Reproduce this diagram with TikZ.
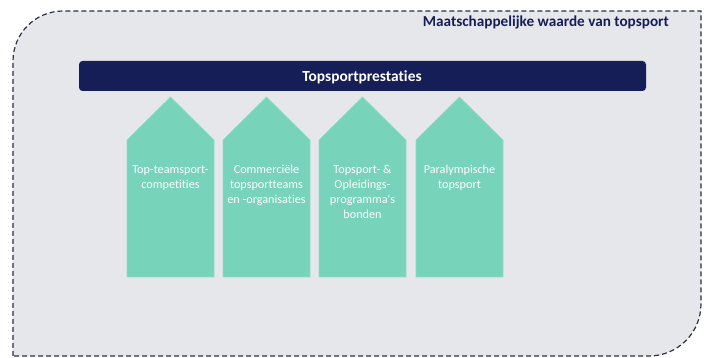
\documentclass[tikz,border=0pt]{standalone}
\usepackage{fontspec}
\setmainfont{Carlito}[Ligatures={NoCommon}]
\definecolor{bgfill}{RGB}{230,231,235}
\definecolor{dashc}{RGB}{43,45,74}
\definecolor{navy}{RGB}{22,30,87}
\definecolor{mint}{RGB}{119,211,185}
\begin{document}
\begin{tikzpicture}[x=1pt,y=1pt,
  pillar/.style={fill=mint,draw=mint!80!white,line width=0.6pt},
  pillartext/.style={text=white,align=center,font=\fontsize{12.2}{15}\selectfont,anchor=north,inner sep=0pt},
]
\useasboundingbox (0,0) rectangle (705,-358);
% outer frame
\draw[fill=bgfill,draw=dashc,line width=1.2pt,dash pattern=on 5pt off 3pt]
  (13,-356) -- (13,-61) arc[start angle=180,end angle=90,radius=50pt] -- (701,-11)
  -- (701,-304) arc[start angle=0,end angle=-90,radius=52pt] -- cycle;
\node[anchor=base east,inner sep=0pt,text=navy,font=\fontsize{15.2}{17}\selectfont\bfseries] (title) at (669,-27) {Maatschappelijke waarde van topsport};
% bar
\fill[navy,rounded corners=3.5pt] (79,-61) -- (646,-61) -- (646,-91) -- (79,-91) -- cycle;
\node[anchor=base,text=white,font=\fontsize{15.4}{17}\selectfont\bfseries,inner sep=0pt] (bar) at (362,-82) {Topsportprestaties};
% pillars
\foreach \i/\x/\t in {1/127/{Top-teamsport-\\competities},
                    2/223/{Commerciële\\topsportteams\\en -organisaties},
                    3/319/{Topsport- \&\\Opleidings-\\programma\textquotesingle s\\bonden},
                    4/416/{Paralympische\\topsport}}{
  \draw[pillar] (\x,-277) -- (\x,-140) -- (\x+43.5,-97) -- (\x+87,-140) -- (\x+87,-277) -- cycle;
  \node[pillartext] (p\i) at (\x+43.5,-165) {\t};
}
\end{tikzpicture}
\end{document}
